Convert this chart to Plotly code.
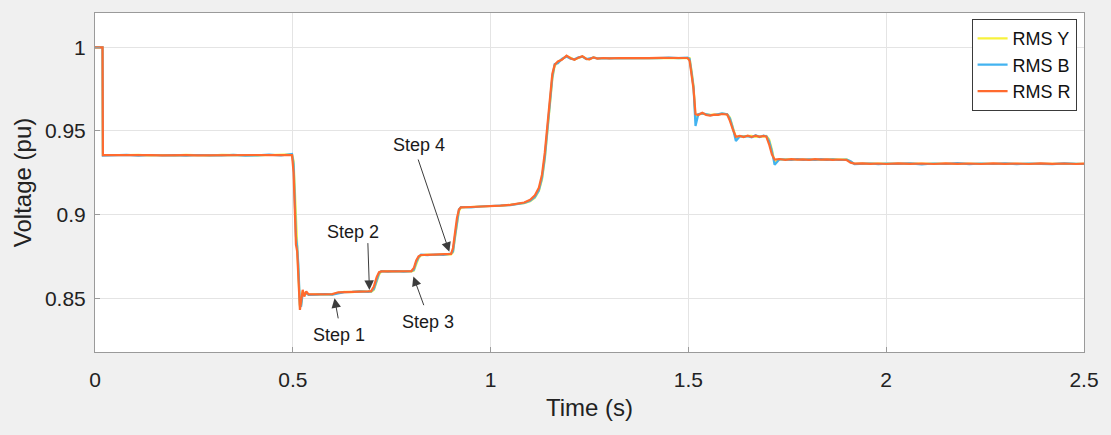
import plotly.graph_objects as go

# Time base (s) shared by the three phase RMS traces
t_s = [
    0, 0.019, 0.020,
    0.05, 0.08, 0.11, 0.14, 0.17, 0.20, 0.23, 0.26, 0.29, 0.32, 0.35, 0.38, 0.41, 0.44, 0.47, 0.498,
    0.502, 0.505, 0.508, 0.511, 0.514, 0.518, 0.521, 0.525, 0.529, 0.534, 0.540,
    0.56, 0.58, 0.60, 0.615, 0.63, 0.65, 0.67, 0.69, 0.698, 0.705, 0.712, 0.718, 0.724,
    0.74, 0.76, 0.78, 0.80, 0.806, 0.812, 0.818, 0.824,
    0.84, 0.86, 0.88, 0.90, 0.905, 0.910, 0.915, 0.920, 0.925,
    0.95, 0.975, 1.0, 1.025, 1.05, 1.07, 1.085, 1.10, 1.112, 1.122, 1.130, 1.137, 1.144, 1.150, 1.156, 1.162,
    1.170, 1.180, 1.192, 1.202, 1.212, 1.222, 1.232, 1.242, 1.250, 1.260, 1.270, 1.285, 1.30, 1.325, 1.35,
    1.375, 1.40, 1.425, 1.45, 1.475, 1.498,
    1.503, 1.508, 1.513, 1.518, 1.525, 1.535, 1.545, 1.555, 1.565, 1.575, 1.585, 1.598,
    1.605, 1.612, 1.620, 1.63, 1.64, 1.65, 1.66, 1.67, 1.68, 1.69, 1.697,
    1.704, 1.711, 1.718, 1.73, 1.745, 1.76, 1.775, 1.79, 1.805, 1.82, 1.835, 1.85, 1.865, 1.88, 1.90,
    1.91, 1.92, 1.94, 1.96, 1.98, 2.0, 2.03, 2.06, 2.09, 2.12, 2.15, 2.18, 2.21, 2.24, 2.27, 2.30,
    2.33, 2.36, 2.39, 2.42, 2.45, 2.48, 2.5,
]

# RMS voltage of phase Y (pu)
rms_y = [
    1.0, 1.0, 0.9357,
    0.9355, 0.9356, 0.9357, 0.9353, 0.9356, 0.9354, 0.9357, 0.9355, 0.9353, 0.9357, 0.9355, 0.9356, 0.9353, 0.9356, 0.9357, 0.9360,
    0.932, 0.915, 0.890, 0.880, 0.866, 0.845, 0.846, 0.854, 0.852, 0.853, 0.8521,
    0.8522, 0.8523, 0.8522, 0.8532, 0.8538, 0.8536, 0.8540, 0.8539, 0.8538, 0.8550, 0.8600, 0.8640, 0.8661,
    0.8661, 0.8659, 0.8662, 0.8660, 0.8665, 0.8705, 0.8740, 0.8756,
    0.8761, 0.8758, 0.8763, 0.8762, 0.8775, 0.8860, 0.8955, 0.9020, 0.9042,
    0.9046, 0.9046, 0.9051, 0.9052, 0.9057, 0.9063, 0.9068, 0.9080, 0.9100, 0.9140, 0.9210, 0.9330, 0.9500, 0.9660, 0.9810, 0.9890,
    0.9910, 0.9928, 0.9947, 0.9937, 0.9926, 0.9936, 0.9945, 0.9931, 0.9929, 0.9939, 0.9933, 0.9935, 0.9935, 0.9935, 0.9936,
    0.9935, 0.9937, 0.9936, 0.9935, 0.9936, 0.9937,
    0.9935, 0.9860, 0.9770, 0.9570, 0.9598, 0.9603, 0.9600, 0.9596, 0.9598, 0.9597, 0.9603, 0.9599,
    0.9580, 0.9530, 0.9460, 0.9467, 0.9468, 0.9466, 0.9470, 0.9465, 0.9469, 0.9466, 0.9470,
    0.9450, 0.9390, 0.9310, 0.9330, 0.9330, 0.9328, 0.9330, 0.9329, 0.9328, 0.9331, 0.9329, 0.9328, 0.9331, 0.9328, 0.9330,
    0.9315, 0.9303, 0.9304, 0.9304, 0.9303, 0.9305, 0.9304, 0.9303, 0.9304, 0.9306, 0.9303, 0.9305, 0.9304, 0.9303, 0.9305, 0.9304,
    0.9303, 0.9306, 0.9304, 0.9303, 0.9305, 0.9304, 0.9303,
]

# RMS voltage of phase B (pu)
rms_b = [
    1.0, 1.0, 0.9352,
    0.9353, 0.9357, 0.9352, 0.9356, 0.9353, 0.9355, 0.9352, 0.9356, 0.9354, 0.9353, 0.9357, 0.9352, 0.9354, 0.9358, 0.9353, 0.9362,
    0.930, 0.912, 0.887, 0.881, 0.870, 0.846, 0.845, 0.853, 0.852, 0.853, 0.8520,
    0.8521, 0.8524, 0.8521, 0.8530, 0.8536, 0.8537, 0.8541, 0.8538, 0.8540, 0.8555, 0.8610, 0.8650, 0.8662,
    0.8658, 0.8662, 0.8659, 0.8661, 0.8670, 0.8715, 0.8745, 0.8760,
    0.8757, 0.8761, 0.8759, 0.8766, 0.8780, 0.8870, 0.8965, 0.9030, 0.9045,
    0.9043, 0.9048, 0.9049, 0.9054, 0.9056, 0.9062, 0.9070, 0.9082, 0.9105, 0.9145, 0.9220, 0.9340, 0.9510, 0.9670, 0.9820, 0.9900,
    0.9905, 0.9930, 0.9945, 0.9932, 0.9928, 0.9940, 0.9944, 0.9929, 0.9931, 0.9938, 0.9934, 0.9934, 0.9937, 0.9933, 0.9937,
    0.9934, 0.9936, 0.9935, 0.9938, 0.9935, 0.9938,
    0.9930, 0.9850, 0.9760, 0.9530, 0.9600, 0.9605, 0.9598, 0.9594, 0.9595, 0.9599, 0.9605, 0.9600,
    0.9575, 0.9520, 0.9440, 0.9468, 0.9466, 0.9469, 0.9462, 0.9474, 0.9463, 0.9472, 0.9468,
    0.9440, 0.9380, 0.9298, 0.9330, 0.9329, 0.9326, 0.9332, 0.9327, 0.9330, 0.9326, 0.9331, 0.9327, 0.9330, 0.9326, 0.9328,
    0.9318, 0.9301, 0.9305, 0.9305, 0.9301, 0.9304, 0.9303, 0.9306, 0.9300, 0.9305, 0.9302, 0.9307, 0.9301, 0.9305, 0.9302, 0.9306,
    0.9301, 0.9305, 0.9303, 0.9301, 0.9306, 0.9304, 0.9302,
]

# RMS voltage of phase R (pu)
rms_r = [
    1.0, 1.0, 0.9355,
    0.9356, 0.9354, 0.9356, 0.9355, 0.9354, 0.9356, 0.9355, 0.9354, 0.9355, 0.9356, 0.9354, 0.9355, 0.9356, 0.9355, 0.9354, 0.9356,
    0.925, 0.900, 0.882, 0.878, 0.862, 0.843, 0.848, 0.855, 0.851, 0.854, 0.8522,
    0.8523, 0.8522, 0.8524, 0.8535, 0.8537, 0.8538, 0.8539, 0.8540, 0.8542, 0.8570, 0.8625, 0.8655, 0.8660,
    0.8660, 0.8661, 0.8661, 0.8662, 0.8680, 0.8725, 0.8750, 0.8758,
    0.8759, 0.8760, 0.8762, 0.8765, 0.8800, 0.8890, 0.8980, 0.9030, 0.9043,
    0.9045, 0.9047, 0.9050, 0.9053, 0.9058, 0.9064, 0.9072, 0.9088, 0.9115, 0.9160, 0.9240, 0.9370, 0.9540, 0.9690, 0.9840, 0.9895,
    0.9915, 0.9925, 0.9950, 0.9935, 0.9925, 0.9938, 0.9947, 0.9930, 0.9928, 0.9940, 0.9932, 0.9936, 0.9934, 0.9936, 0.9935,
    0.9936, 0.9935, 0.9937, 0.9936, 0.9937, 0.9936,
    0.9920, 0.9820, 0.9750, 0.9600, 0.9595, 0.9608, 0.9595, 0.9592, 0.9597, 0.9596, 0.9601, 0.9598,
    0.9560, 0.9510, 0.9465, 0.9470, 0.9463, 0.9472, 0.9464, 0.9471, 0.9465, 0.9470, 0.9466,
    0.9420, 0.9360, 0.9328, 0.9332, 0.9327, 0.9331, 0.9328, 0.9330, 0.9327, 0.9331, 0.9328, 0.9330, 0.9327, 0.9329, 0.9326,
    0.9310, 0.9304, 0.9306, 0.9303, 0.9305, 0.9302, 0.9306, 0.9303, 0.9305, 0.9302, 0.9306, 0.9303, 0.9305, 0.9302, 0.9306, 0.9303,
    0.9305, 0.9302, 0.9306, 0.9303, 0.9305, 0.9302, 0.9304,
]

series_names = ["RMS Y", "RMS B", "RMS R"]
series_colors = ["#F7F23C", "#43B3F0", "#FF6A2E"]

# Step labels: text position and arrow (tail -> head) in data units
step_labels = ["Step 1", "Step 2", "Step 3", "Step 4"]
step_text_t = [0.618, 0.652, 0.841, 0.820]
step_text_v = [0.8280, 0.8898, 0.8359, 0.9417]
step_tail_t = [0.6155, 0.6896, 0.8325, 0.8156]
step_tail_v = [0.8370, 0.8838, 0.8449, 0.9338]
step_head_t = [0.6055, 0.6937, 0.8047, 0.8956]
step_head_v = [0.8499, 0.8549, 0.8629, 0.8778]

x_ticks = [0, 0.5, 1, 1.5, 2, 2.5]
x_tick_text = ["0", "0.5", "1", "1.5", "2", "2.5"]
y_ticks = [0.85, 0.9, 0.95, 1.0]
y_tick_text = ["0.85", "0.9", "0.95", "1"]

FONT = "Liberation Sans, Arial, sans-serif"

fig = go.Figure()
for name, color, vals in zip(series_names, series_colors, [rms_y, rms_b, rms_r]):
    assert len(vals) == len(t_s)
    fig.add_trace(go.Scatter(
        x=t_s, y=vals, mode="lines", name=name,
        line=dict(color=color, width=2.2),
    ))

for lbl, tx, tv, at, av, ht, hv in zip(step_labels, step_text_t, step_text_v,
                                       step_tail_t, step_tail_v, step_head_t, step_head_v):
    fig.add_annotation(x=tx, y=tv, text=lbl, showarrow=False,
                       font=dict(family=FONT, size=18, color="#1a1a1a"))
    fig.add_annotation(x=ht, y=hv, ax=at, ay=av, axref="x", ayref="y",
                       text="", showarrow=True, arrowhead=2, arrowsize=1.9,
                       arrowwidth=1, arrowcolor="#3c3c3c")

axis_common = dict(
    showgrid=True, gridcolor="#e4e4e4", gridwidth=1,
    showline=True, linecolor="#9a9a9a", linewidth=1, mirror=True,
    ticks="inside", ticklen=5, tickcolor="#9a9a9a",
    zeroline=False,
    tickfont=dict(family=FONT, size=21, color="#222222"),
)

fig.update_xaxes(
    range=[0, 2.5], tickvals=x_ticks, ticktext=x_tick_text,
    ticklabelstandoff=9,
    title=dict(text="Time (s)", font=dict(family=FONT, size=24, color="#222222"), standoff=8),
    **axis_common,
)
fig.update_yaxes(
    range=[0.8178, 1.0205], tickvals=y_ticks, ticktext=y_tick_text,
    ticklabelstandoff=4,
    title=dict(text="Voltage (pu)", font=dict(family=FONT, size=24, color="#222222"), standoff=6),
    **axis_common,
)

fig.update_layout(
    width=1111, height=435,
    margin=dict(l=95, r=25, t=13, b=83),
    paper_bgcolor="#f0f0f0", plot_bgcolor="#ffffff",
    font=dict(family=FONT),
    legend=dict(
        x=0.9925, y=0.982, xanchor="right", yanchor="top",
        bgcolor="#ffffff", bordercolor="#3a3a3a", borderwidth=1,
        font=dict(family=FONT, size=18, color="#111111"),
        tracegroupgap=0, itemwidth=30,
    ),
    showlegend=True,
)

fig.write_html("out.html")
